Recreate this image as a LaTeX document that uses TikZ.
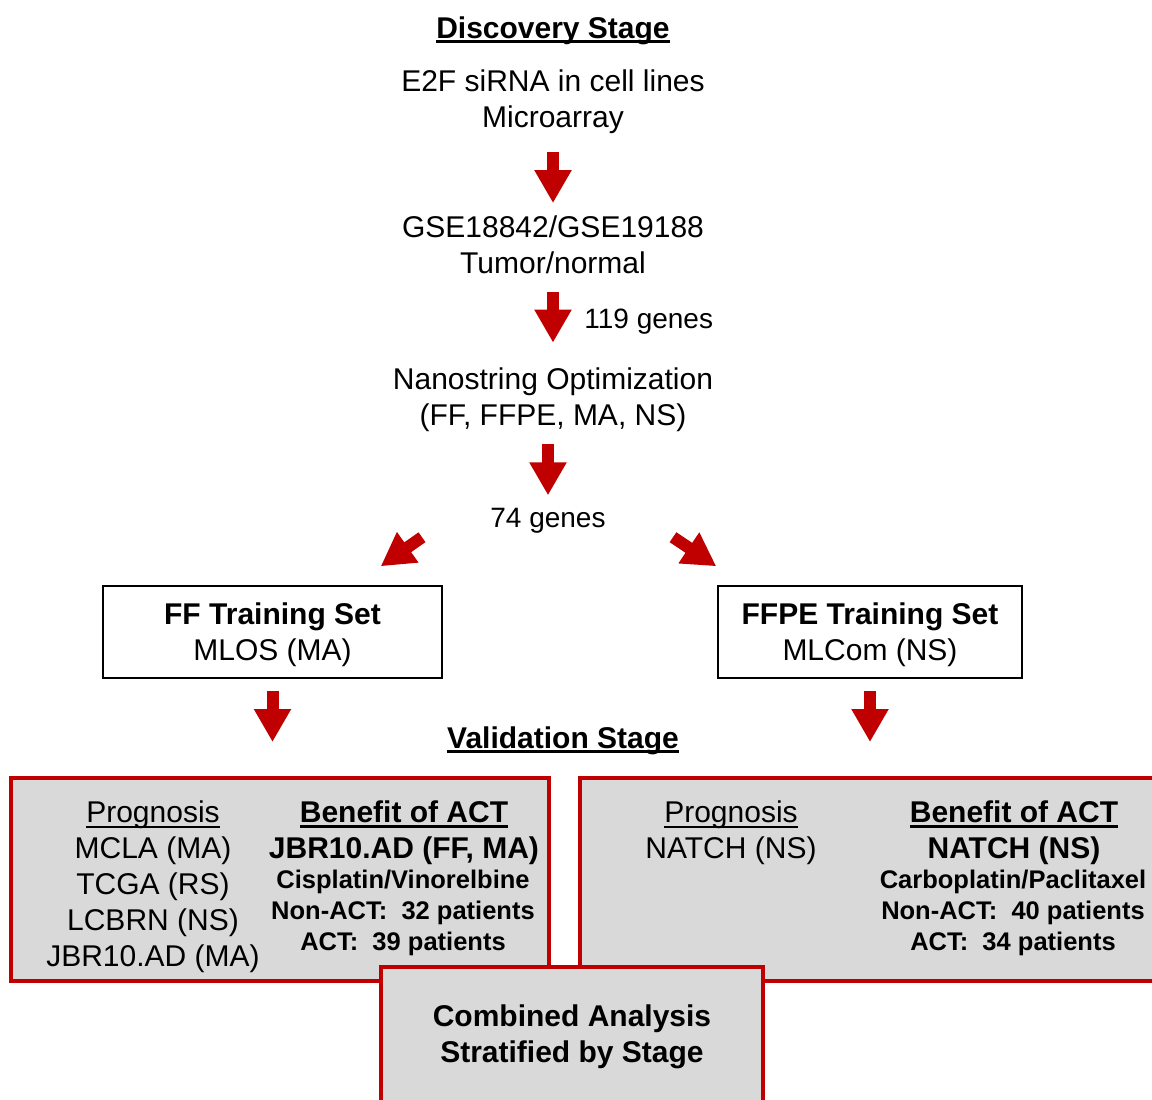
\documentclass[tikz,border=0pt]{standalone}
\usepackage{fontspec}
\setmainfont{Liberation Sans}
\usepackage{tikz}
\usetikzlibrary{positioning, arrows.meta, calc}
\definecolor{arrowred}{HTML}{C00000}
\definecolor{boxgray}{HTML}{D9D9D9}
\newcommand{\mainsize}{\fontsize{15}{18}\selectfont}
\newcommand{\detailsize}{\fontsize{12.75}{15.5}\selectfont}
\newcommand{\genesize}{\fontsize{14}{17}\selectfont}
\newlength{\ulwd}
\newcommand{\ulin}[2][0.7pt]{\settowidth{\ulwd}{#2}\rlap{\rule[-2.4pt]{\ulwd}{#1}}#2}

\begin{document}
\begin{tikzpicture}[x=0.5pt, y=-0.5pt,
  txt/.style={inner sep=0pt, align=center, font=\mainsize},
  detail/.style={inner sep=0pt, align=center, font=\detailsize\bfseries},
  trainbox/.style={draw, line width=0.75pt, inner sep=0pt, align=center, minimum height=46pt, text depth=0pt, font=\mainsize},
  stagebox/.style={draw=arrowred, fill=boxgray, line width=2pt, inner sep=0pt, align=center},
  blockarrow/.style={draw=arrowred, line width=6pt, -{Triangle[length=16.5pt 0 1, width=17.5pt 0 1]}}]
\useasboundingbox (0,0) rectangle (1152,1099);

\node[txt, anchor=base] (disc) at (553,38) {\ulin[1.3pt]{\textbf{Discovery Stage}}};
\node[txt] (e2f) at (553,102) {E2F siRNA in cell lines\\Microarray};
\node[txt] (gse) at (553,245) {GSE18842/GSE19188\\Tumor/normal};
\node[txt, anchor=base west, font=\genesize] (g119) at (584,328) {119 genes};
\node[txt] (nano) at (553,400) {Nanostring Optimization\\(FF, FFPE, MA, NS)};
\node[txt, anchor=base, font=\genesize] (g74) at (548,527) {74 genes};

\node[trainbox, minimum width=169.5pt] (ffbox) at (272.5,632) {\textbf{FF Training Set}\\MLOS (MA)};
\node[trainbox, minimum width=152pt] (ffpebox) at (870,632) {\textbf{FFPE Training Set}\\MLCom (NS)};

\node[txt, anchor=base] (valid) at (563,748) {\ulin[1.3pt]{\textbf{Validation Stage}}};

\node[stagebox, minimum width=269pt, minimum height=101.5pt] (leftbox) at (280,879.5) {};
\node[stagebox, minimum width=300pt, minimum height=101.5pt] (rightbox) at (880,879.5) {};

\node[txt] (progL) at (153,887) {\ulin{Prognosis}\\MCLA (MA)\\TCGA (RS)\\LCBRN (NS)\\JBR10.AD (MA)};
\node[txt, font=\mainsize\bfseries] (benL) at (404,833) {\ulin[1.2pt]{Benefit of ACT}\\JBR10.AD (FF, MA)};
\node[detail] (detL) at (403,913) {Cisplatin/Vinorelbine\\Non-ACT:\ \ 32 patients\\ACT:\ \ 39 patients};

\node[txt] (progR) at (731,833) {\ulin{Prognosis}\\NATCH (NS)};
\node[txt, font=\mainsize\bfseries] (benR) at (1014,833) {\ulin[1.2pt]{Benefit of ACT}\\NATCH (NS)};
\node[detail] (detR) at (1013,913) {Carboplatin/Paclitaxel\\Non-ACT:\ \ 40 patients\\ACT:\ \ 34 patients};

\node[stagebox, minimum width=191pt, minimum height=70pt, font=\mainsize\bfseries] (combbox) at (572,1037) {Combined Analysis\\Stratified by Stage};

\draw[blockarrow, shorten <=9pt, shorten >=6.25pt] (e2f) -- (gse);
\draw[blockarrow, shorten <=9pt, shorten >=12.5pt] (gse) -- (nano);
\draw[blockarrow, shorten <=6pt, shorten >=6pt] (nano.south -| g74) -- (g74);
\draw[blockarrow] ([shift={(-68,4)}]g74.south west) -- ([shift={(-62,-19)}]ffbox.north east);
\draw[blockarrow] ([shift={(67,4)}]g74.south east) -- ([shift={(-1,-19)}]ffpebox.north west);
\draw[blockarrow, shorten <=6pt, shorten >=17pt] (ffbox) -- (ffbox |- leftbox.north);
\draw[blockarrow, shorten <=6pt, shorten >=17pt] (ffpebox) -- (ffpebox |- rightbox.north);
\end{tikzpicture}
\end{document}
